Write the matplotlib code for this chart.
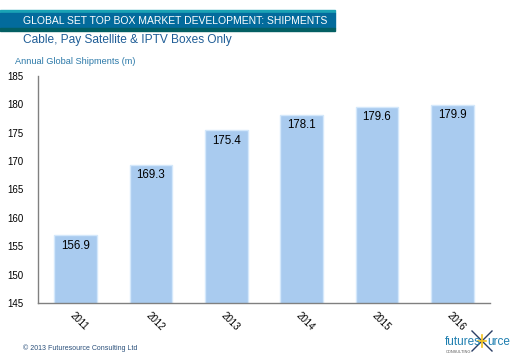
import matplotlib
matplotlib.use("Agg")
import matplotlib.pyplot as plt
from matplotlib.patches import Rectangle
from matplotlib.lines import Line2D

years = ["2011", "2012", "2013", "2014", "2015", "2016"]
shipments = [156.9, 169.3, 175.4, 178.1, 179.6, 179.9]
yticks = [145, 150, 155, 160, 165, 170, 175, 180, 185]

title = "GLOBAL SET TOP BOX MARKET DEVELOPMENT: SHIPMENTS"
subtitle = "Cable, Pay Satellite & IPTV Boxes Only"
ylabel = "Annual Global Shipments (m)"
copyright_text = "\u00a9 2013 Futuresource Consulting Ltd"

W, H = 520, 360
plt.rcParams['font.family'] = ['Liberation Sans', 'DejaVu Sans']
fig = plt.figure(figsize=(5.2, 3.6), dpi=100)

# header bands
def band(y0, y1, x1, color):
    fig.patches.append(Rectangle((0, 1 - y1 / H), x1 / W, (y1 - y0) / H,
                                 transform=fig.transFigure, color=color, zorder=0))
band(10, 12.5, 335, "#1aa3b5")
band(12.5, 28, 335, "#036b9c")
band(28, 30.5, 335, "#035f63")
fig.text(23 / W, 1 - 20.5 / H, title, color="white", fontsize=7.5, va="center", ha="left")
fig.text(23 / W, 1 - 40 / H, subtitle, color="#1f5d96", fontsize=8.6, va="center", ha="left")
fig.text(15 / W, 1 - 62 / H, ylabel, color="#2a78a8", fontsize=6.6, va="center", ha="left")

ax = fig.add_axes([38 / W, 57 / H, 452 / W, 227 / H])
x = range(len(years))
ax.bar(x, shipments, width=0.57, color="#a9cbef", edgecolor="#d4e8fb",
       linewidth=1.0, bottom=0)
ax.set_ylim(145, 185)
ax.set_xlim(-0.5, len(years) - 0.5)
ax.set_yticks(yticks)
ax.set_yticklabels([str(v) for v in yticks], fontsize=7)
ax.set_xticks(list(x))
ax.set_xticklabels(years, fontsize=7, rotation=-45, ha="left", rotation_mode="anchor")
ax.tick_params(axis="both", length=0)
ax.tick_params(axis="y", pad=22)
ax.tick_params(axis="x", pad=5)
for lbl in ax.get_yticklabels():
    lbl.set_horizontalalignment("left")
for s in ["top", "right"]:
    ax.spines[s].set_visible(False)
for s in ["left", "bottom"]:
    ax.spines[s].set_color("#808080")
    ax.spines[s].set_linewidth(1.0)

for xi, v in zip(x, shipments):
    ax.annotate(f"{v}", (xi, v), xytext=(0, -3), textcoords="offset points",
                ha="center", va="top", fontsize=8.3, color="black")

fig.text(23 / W, 1 - 348 / H, copyright_text, color="#2a4f7a", fontsize=5, va="center", ha="left")
fig.text(445 / W, 1 - 342 / H, "futures", color="#1f7fb0", fontsize=8.5, va="center", ha="left")
fig.text(487 / W, 1 - 342 / H, "urce", color="#1f7fb0", fontsize=8.5, va="center", ha="left")
fig.text(446 / W, 1 - 352 / H, "CONSULTING", color="#555555", fontsize=2.8, va="center", ha="left")
cx, cy = 482, 341
for (dx1, dy1, dx2, dy2, c, lw) in [(-10, -10, 10, 10, "#2b3f66", 1.0),
                                    (-10, 10, 10, -10, "#2b3f66", 1.0),
                                    (-4, 0, 4, 0, "#f2c21b", 1.2),
                                    (0, -6, 0, 6, "#f2c21b", 1.2)]:
    fig.lines.append(Line2D([(cx + dx1) / W, (cx + dx2) / W],
                            [1 - (cy + dy1) / H, 1 - (cy + dy2) / H],
                            transform=fig.transFigure, color=c, lw=lw))

fig.savefig("out.png", dpi=100)
